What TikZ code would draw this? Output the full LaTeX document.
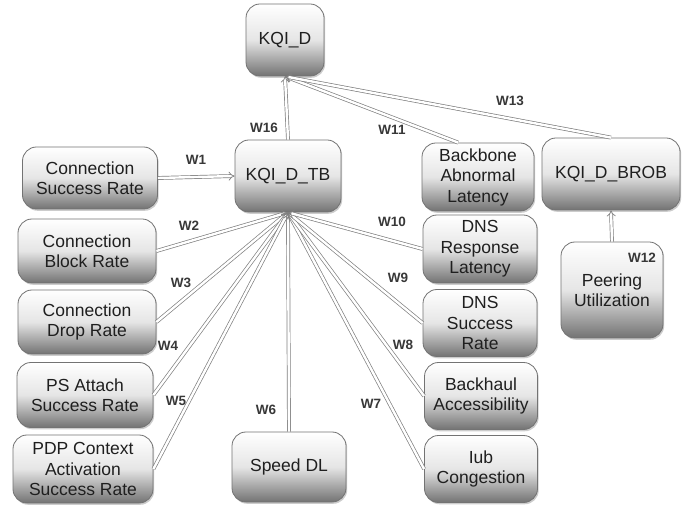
\documentclass[tikz,border=0pt]{standalone}
\usepackage{fontspec}
\setmainfont{Liberation Sans}
\usetikzlibrary{arrows.meta,shadows}
\tikzset{
  box/.style={draw=black!55, line width=0.8pt, rounded corners=14pt,
    top color=white, bottom color=black!55, middle color=black!10,
    drop shadow={opacity=0.4, shadow xshift=1.2pt, shadow yshift=-1.8pt},
    align=center, inner sep=2pt, text=black!88,
    font=\fontsize{17.5}{20.5}\selectfont},
  link/.style={draw=black!50, line width=0.7pt, double=white, double distance=2.4pt, -{Implies}},
  wlab/.style={font=\fontsize{13.5}{15}\selectfont\bfseries, text=black!78, inner sep=1pt}
}
\begin{document}
\begin{tikzpicture}[x=1pt,y=-1pt]
\useasboundingbox[fill=white] (0,0) rectangle (691,510);
% nodes
\node[box, minimum width=78pt, minimum height=72pt] (kd) at (285,40) {KQI\_D};
\node[box, minimum width=106pt, minimum height=72pt] (tb) at (288,176) {KQI\_D\_TB};
\node[box, minimum width=135pt, minimum height=62pt] (csr) at (90,178) {Connection\\Success Rate};
\node[box, minimum width=138pt, minimum height=64pt] (cbr) at (87,251) {Connection\\Block Rate};
\node[box, minimum width=138pt, minimum height=64pt] (cdr) at (87,322) {Connection\\Drop Rate};
\node[box, minimum width=136pt, minimum height=65pt] (psa) at (85,395) {PS Attach\\Success Rate};
\node[box, minimum width=140pt, minimum height=68pt] (pdp) at (83,469) {PDP Context\\Activation\\Success Rate};
\node[box, minimum width=114pt, minimum height=70pt] (sdl) at (289,467) {Speed DL};
\node[box, minimum width=112pt, minimum height=68pt] (bb) at (478,177) {Backbone\\Abnormal\\Latency};
\node[box, minimum width=138pt, minimum height=72pt] (brob) at (611,174) {KQI\_D\_BROB};
\node[box, minimum width=114pt, minimum height=68pt] (dnsr) at (480,249) {DNS\\Response\\Latency};
\node[box, minimum width=114pt, minimum height=67pt] (dnss) at (480,323) {DNS\\Success\\Rate};
\node[box, minimum width=113pt, minimum height=67pt] (bha) at (481,396) {Backhaul\\Accessibility};
\node[box, minimum width=113pt, minimum height=67pt] (iub) at (481,469) {Iub\\Congestion};
\node[box, minimum width=102pt, minimum height=96pt] (peer) at (612,290) {Peering\\Utilization};
% connectors into KQI_D_TB
\draw[link] (cbr.east) -- (tb.south);
\draw[link] (cdr.east) -- (tb.south);
\draw[link] (psa.east) -- (tb.south);
\draw[link] (pdp.east) -- (tb.south);
\draw[link] (sdl.north) -- (tb.south);
\draw[link] (iub.west) -- (tb.south);
\draw[link] (bha.west) -- (tb.south);
\draw[link] (dnss.west) -- (tb.south);
\draw[link] (dnsr.west) -- (tb.south);
\draw[link] (csr.east) -- (tb.west);
% connectors into KQI_D
\draw[link] (tb.north) -- (kd.south);
\draw[link] (bb.120) -- (kd.south);
\draw[link] (brob.north) -- (kd.south);
% into BROB
\draw[link] (peer.north) -- (brob.south);
% labels
\node[wlab] (w1) at (196,160) {W1};
\node[wlab] (w2) at (189,226) {W2};
\node[wlab] (w3) at (181,283) {W3};
\node[wlab] (w4) at (168,346) {W4};
\node[wlab] (w5) at (176,401) {W5};
\node[wlab] (w6) at (266,410) {W6};
\node[wlab] (w7) at (371,404) {W7};
\node[wlab] (w8) at (403,345) {W8};
\node[wlab] (w9) at (398,278) {W9};
\node[wlab] (w10) at (392,222) {W10};
\node[wlab] (w11) at (392,130) {W11};
\node[wlab] (w12) at (642,258) {W12};
\node[wlab] (w13) at (510,101) {W13};
\node[wlab] (w16) at (264,128) {W16};
\end{tikzpicture}
\end{document}
